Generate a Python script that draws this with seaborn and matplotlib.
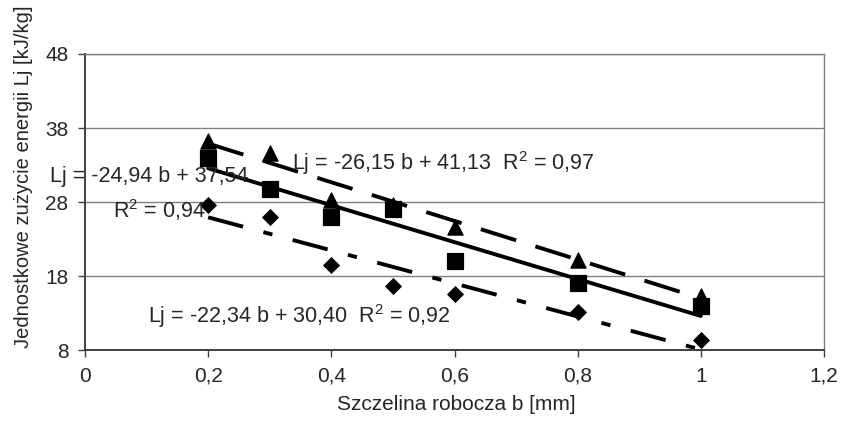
import numpy as np
import pandas as pd
import matplotlib
matplotlib.use("Agg")
import matplotlib.pyplot as plt
import seaborn as sns

b_vals = [0.2, 0.3, 0.4, 0.5, 0.6, 0.8, 1.0]
lj_triangle = [36.2, 34.6, 28.3, 27.6, 24.6, 20.1, 15.3]
lj_square = [33.9, 29.8, 26.0, 27.0, 20.0, 17.0, 14.0]
lj_diamond = [27.6, 26.0, 19.5, 16.6, 15.6, 13.1, 9.4]

# trend line coefficients (slope, intercept) as printed on the chart
fit_triangle = (-26.15, 41.13)
fit_square = (-24.94, 37.54)
fit_diamond = (-22.34, 30.40)

x_ticks = [0, 0.2, 0.4, 0.6, 0.8, 1.0, 1.2]
x_tick_labels = ["0", "0,2", "0,4", "0,6", "0,8", "1", "1,2"]
y_ticks = [8, 18, 28, 38, 48]

sns.set_style("white")
plt.rcParams["font.family"] = ["Liberation Sans", "DejaVu Sans"]
plt.rcParams["mathtext.fontset"] = "custom"
plt.rcParams["mathtext.rm"] = "Liberation Sans"
plt.rcParams["mathtext.it"] = "Liberation Sans:italic"

fig = plt.figure(figsize=(8.41, 4.30), dpi=100)
ax = fig.add_axes([85 / 841, 1 - 350 / 430, 739 / 841, 296 / 430])

df = pd.DataFrame({"b": b_vals, "tri": lj_triangle, "sq": lj_square, "dia": lj_diamond})

trend_x = np.array([0.2, 1.0])
lw = 2.8
lines = [
    (fit_triangle, (0, (9.5, 5.2))),
    (fit_square, "-"),
    (fit_diamond, (0, (9.3, 5.4, 2.4, 5.4))),
]
for (k, c), ls in lines:
    sns.lineplot(x=trend_x, y=k * trend_x + c, ax=ax, color="black", lw=lw,
                 linestyle=ls, zorder=2)

ms = 120
sns.scatterplot(data=df, x="b", y="tri", marker="^", s=ms, color="black",
                edgecolor="black", ax=ax, zorder=3)
sns.scatterplot(data=df, x="b", y="sq", marker="s", s=ms, color="black",
                edgecolor="black", ax=ax, zorder=3)
sns.scatterplot(data=df, x="b", y="dia", marker="D", s=65, color="black",
                edgecolor="black", ax=ax, zorder=3)

ax.set_xlim(0, 1.2)
ax.set_ylim(8, 48)
ax.set_xticks(x_ticks)
ax.set_xticklabels(x_tick_labels)
ax.set_yticks(y_ticks)
ax.yaxis.grid(True, color="#808080", lw=1.0)
ax.set_axisbelow(True)
ax.tick_params(axis="both", direction="out", length=5, width=1, labelsize=15,
               color="#404040", pad=7, left=True, bottom=True)

for side in ["left", "bottom"]:
    ax.spines[side].set_color("#404040")
    ax.spines[side].set_linewidth(1.4)
for side in ["right", "top"]:
    ax.spines[side].set_color("#808080")
    ax.spines[side].set_linewidth(1.0)

ax.set_xlabel("Szczelina robocza b [mm]", fontsize=15)
ax.set_ylabel("Jednostkowe zużycie energii Lj [kJ/kg]", fontsize=14.5)
ax.xaxis.set_label_coords(0.503, -0.152)
ax.yaxis.set_label_coords(-0.070, 0.585)

fs = 15.5
ax.text(0.336, 33.3, "Lj = -26,15 b + 41,13  R$^2$ = 0,97", fontsize=fs, va="center", ha="left")
ax.text(-0.057, 31.5, "Lj = -24,94 b + 37,54", fontsize=fs, va="center", ha="left", clip_on=False)
ax.text(0.045, 26.9, "R$^2$ = 0,94", fontsize=fs, va="center", ha="left", clip_on=False)
ax.text(0.102, 12.6, "Lj = -22,34 b + 30,40  R$^2$ = 0,92", fontsize=fs, va="center", ha="left")

fig.savefig("out.png", dpi=100)
